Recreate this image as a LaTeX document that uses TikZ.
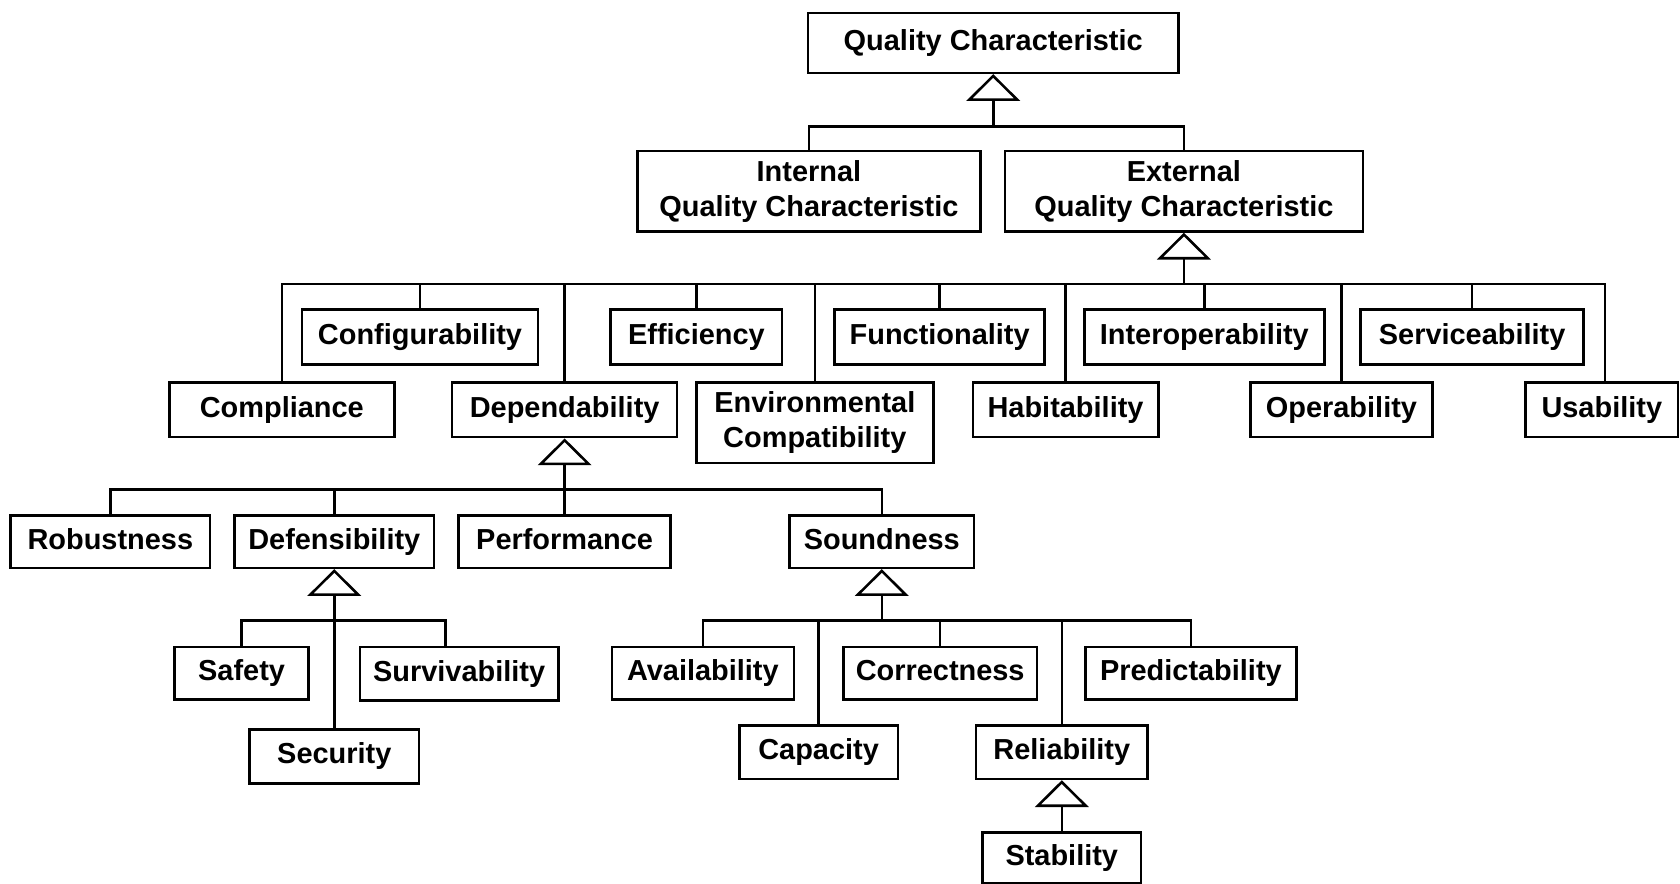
\documentclass[tikz,border=0pt]{standalone}
\usepackage{fontspec}
\setmainfont{Liberation Sans}
\usetikzlibrary{arrows.meta}
\tikzset{
  box/.style={draw, line width=1.2pt, fill=white, inner sep=0pt, align=center,
    text height=9.8pt, text depth=2.8pt,
    font=\bfseries\fontsize{13.5}{16.5}\selectfont},
  twoline/.style={text height=, text depth=},
  sz/.style 2 args={minimum width=#1*0.5pt, minimum height=#2*0.5pt},
  link/.style={line width=1.2pt},
  gen/.style={line width=1.2pt, -{Triangle[open, length=12.5pt, width=25pt, line width=1.2pt]}}
}
\begin{document}
\begin{tikzpicture}[x=0.5pt, y=-0.5pt]
\useasboundingbox (0,0) rectangle (1568,825);
% nodes
\node[box, sz={346}{56}] (qc) at (927,40) {Quality Characteristic};
\node[box, twoline, sz={320}{75}] (iqc) at (755,178.5) {Internal\\Quality Characteristic};
\node[box, twoline, sz={334}{75}] (eqc) at (1105,178.5) {External\\Quality Characteristic};
\node[box, sz={220}{51}] (conf) at (392,314.5) {Configurability};
\node[box, sz={160}{51}] (eff) at (650,314.5) {Efficiency};
\node[box, sz={196}{51}] (func) at (877,314.5) {Functionality};
\node[box, sz={224}{51}] (inter) at (1124,314.5) {Interoperability};
\node[box, sz={208}{51}] (serv) at (1374,314.5) {Serviceability};
\node[box, sz={210}{51}] (comp) at (263,382.5) {Compliance};
\node[box, sz={210}{51}] (dep) at (527,382.5) {Dependability};
\node[box, twoline, sz={221}{75}] (env) at (760.5,394.5) {Environmental\\Compatibility};
\node[box, sz={173}{51}] (hab) at (994.5,382.5) {Habitability};
\node[box, sz={170}{51}] (oper) at (1252,382.5) {Operability};
\node[box, sz={142}{51}] (usab) at (1495,382.5) {Usability};
\node[box, sz={186}{49}] (rob) at (103,505.5) {Robustness};
\node[box, sz={186}{49}] (def) at (312,505.5) {Defensibility};
\node[box, sz={198}{49}] (perf) at (527,505.5) {Performance};
\node[box, sz={172}{49}] (sound) at (823,505.5) {Soundness};
\node[box, sz={125}{49}] (safe) at (225.5,628.5) {Safety};
\node[box, sz={185}{50}] (surv) at (428.5,629) {Survivability};
\node[box, sz={158}{50}] (sec) at (312,706) {Security};
\node[box, sz={170}{49}] (avail) at (656,628.5) {Availability};
\node[box, sz={181}{49}] (corr) at (877.5,628.5) {Correctness};
\node[box, sz={197}{49}] (pred) at (1111.5,628.5) {Predictability};
\node[box, sz={148}{50}] (cap) at (764,702) {Capacity};
\node[box, sz={160}{50}] (rel) at (991,702) {Reliability};
\node[box, sz={148}{47}] (stab) at (991,800.5) {Stability};
% junctions
\coordinate (jQ) at (927,118);
\coordinate (jE) at (1105,265);
\coordinate (jD) at (527,457);
\coordinate (jDf) at (312,579);
\coordinate (jS) at (823,579);
% generalisation trunks
\draw[gen] (jQ) -- (qc.south);
\draw[gen] (jE) -- (eqc.south);
\draw[gen] (jD) -- (dep.south);
\draw[gen] (jDf) -- (def.south);
\draw[gen] (jS) -- (sound.south);
\draw[gen] (stab.north) -- (rel.south);
% children
\foreach \c in {iqc,eqc} \draw[link] (\c.north) |- (jQ);
\foreach \c in {comp,conf,dep,eff,env,func,hab,inter,oper,serv} \draw[link] (\c.north) |- (jE);
\draw[link] ([xshift=1.5pt]usab.north) |- (jE);
\foreach \c in {rob,def,perf,sound} \draw[link] (\c.north) |- (jD);
\foreach \c in {safe,sec} \draw[link] (\c.north) |- (jDf);
\draw[link] ([xshift=-6.25pt]surv.north) |- (jDf);
\foreach \c in {avail,cap,corr,rel,pred} \draw[link] (\c.north) |- (jS);
\end{tikzpicture}
\end{document}
